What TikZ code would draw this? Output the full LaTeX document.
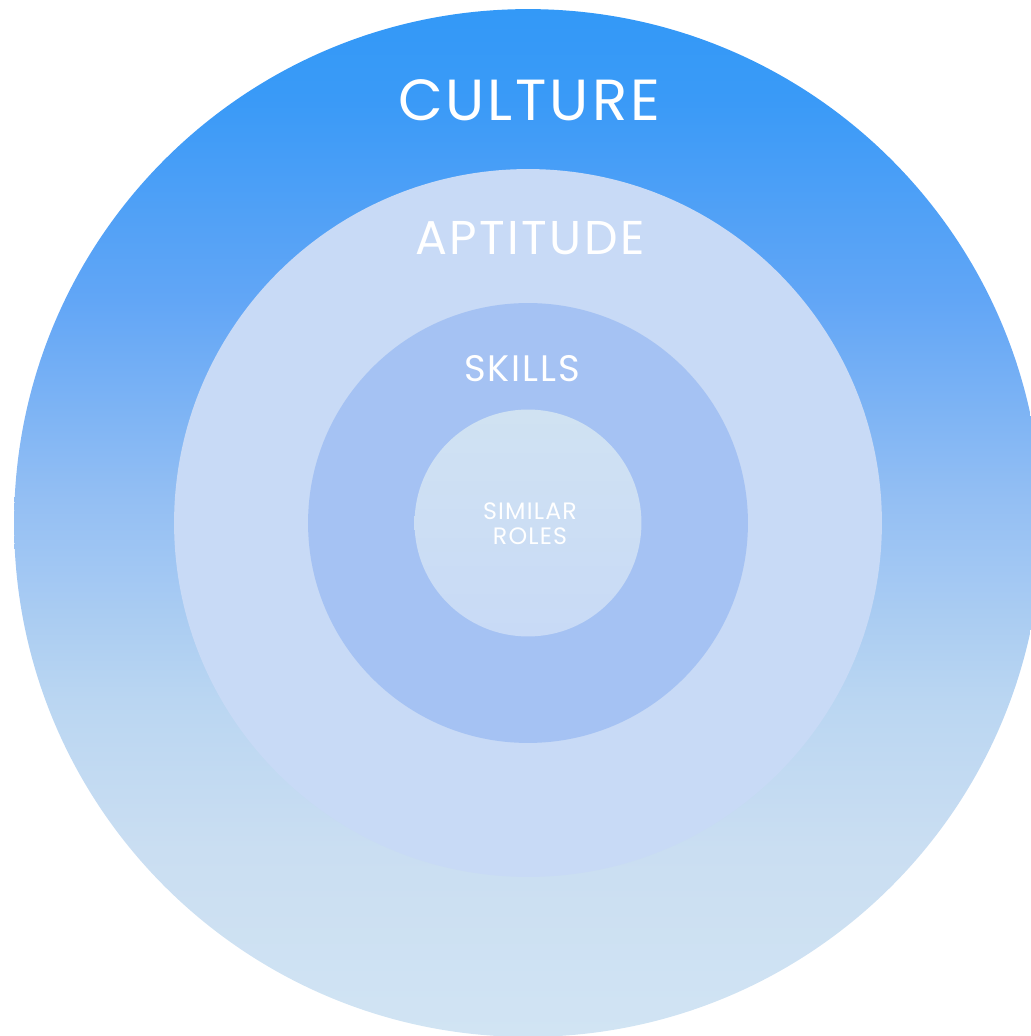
\documentclass[tikz,border=0pt]{standalone}
\usepackage{fontspec}
\setmainfont{Poppins}[LetterSpace=5]
\definecolor{cultureTop}{RGB}{51,153,247}
\definecolor{cultureUpper}{RGB}{58,154,247}
\definecolor{cultureHigh}{RGB}{98,166,246}
\definecolor{cultureMid}{RGB}{148,191,243}
\definecolor{cultureLow}{RGB}{186,214,242}
\definecolor{cultureLower}{RGB}{202,222,242}
\definecolor{cultureBottom}{RGB}{209,228,243}
\definecolor{aptitudeFill}{RGB}{200,218,246}
\definecolor{skillsFill}{RGB}{165,194,243}
\definecolor{rolesTop}{RGB}{208,226,242}
\definecolor{rolesBottom}{RGB}{200,218,246}
\pgfdeclareverticalshading{cultureShade}{100bp}{color(0bp)=(cultureBottom); color(25bp)=(cultureBottom);
color(34.1bp)=(cultureLower); color(41.4bp)=(cultureLow); color(51.1bp)=(cultureMid);
color(60.8bp)=(cultureHigh); color(70.6bp)=(cultureUpper); color(75bp)=(cultureTop); color(100bp)=(cultureTop)}
\tikzset{
ring/.style={circle,inner sep=0pt,draw=none},
lbl/.style={text=white,inner sep=0pt}
}
\begin{document}
\begin{tikzpicture}[x=0.02cm,y=0.02cm]
\useasboundingbox(0,0) rectangle (1031,1036);
\clip(0,0) rectangle (1031,1036);
\node[ring,minimum size=20.56cm,shading=cultureShade](culture) at (528,513){};
\node[ring,minimum size=14.16cm,fill=aptitudeFill](aptitude) at (528,513){};
\node[ring,minimum size=8.8cm,fill=skillsFill](skills) at (528,513){};
\node[ring,minimum size=4.54cm,top color=rolesTop,bottom color=rolesBottom](roles) at (528,513){};
\node[lbl,anchor=base,font=\fontsize{33}{40}\selectfont](cultureText) at (529,915){CULTURE};
\node[lbl,anchor=base,font=\fontsize{27}{32}\selectfont](aptitudeText) at (530,781){APTITUDE};
\node[lbl,anchor=base,font=\fontsize{21}{25}\selectfont](skillsText) at (522,654){SKILLS};
\node[lbl,align=center,font=\fontsize{13.5}{14}\selectfont](rolesText) at (530,512){SIMILAR\\ROLES};
\end{tikzpicture}
\end{document}
